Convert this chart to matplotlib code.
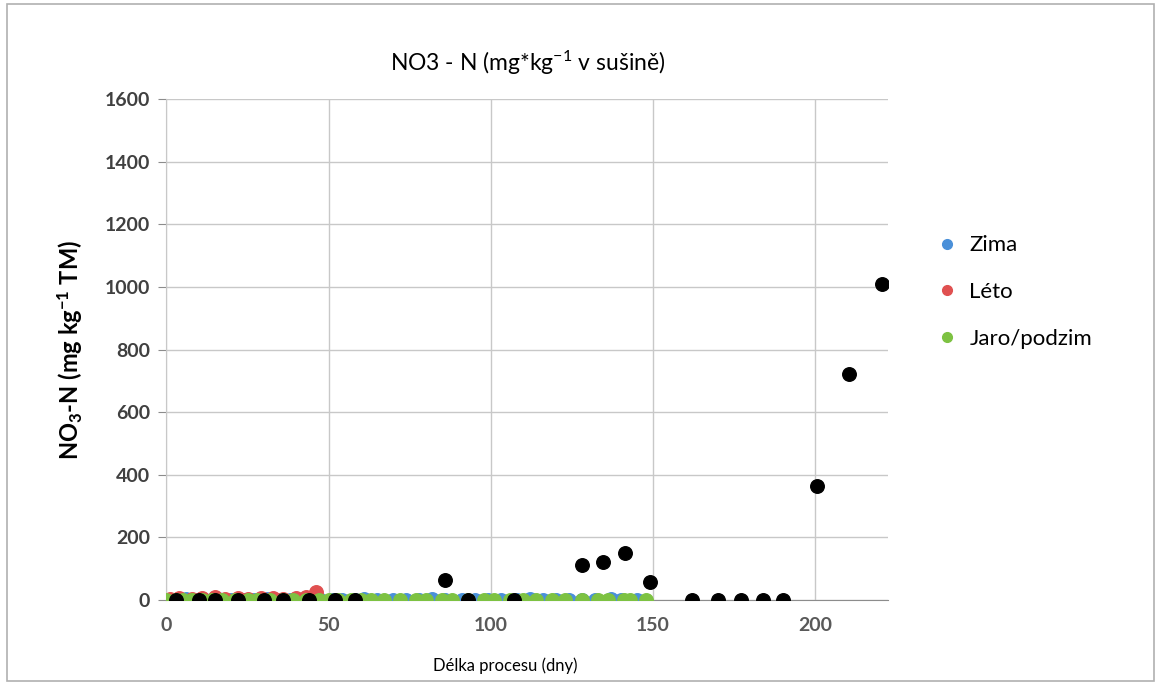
import matplotlib.pyplot as plt
from matplotlib.patches import Rectangle

plt.rcParams['font.family'] = ['Lato', 'DejaVu Sans']
plt.rcParams['mathtext.default'] = 'regular'

# Zima (blue)
zima_x = [2, 6, 9, 12, 16, 20, 24, 27, 31, 35, 38, 42, 47, 51, 54, 58, 61, 65, 70, 74, 78, 82,
          86, 91, 95, 99, 103, 108, 112, 116, 120, 124, 128, 132, 137, 140, 145]
zima_y = [1, 2, 1, 0, 2, 1, 1, 0, 2, 1, 0, 1, 2, 1, 0, 1, 2, 0, 1, 1, 0, 2,
          1, 0, 1, 1, 0, 1, 2, 0, 1, 1, 0, 1, 2, 1, 0]

# Léto (red)
leto_x = [1, 4, 8, 11, 15, 18, 22, 25, 29, 33, 36, 40, 43, 46]
leto_y = [4, 6, 3, 5, 8, 4, 6, 3, 5, 7, 4, 6, 9, 25]

# Jaro/podzim (green)
jaro_x = [0, 3, 5, 8, 11, 14, 17, 21, 25, 28, 32, 36, 39, 43, 47, 50, 53, 57, 60, 63, 67, 72,
          77, 80, 85, 88, 93, 98, 101, 106, 110, 114, 119, 123, 128, 133, 136, 141, 143, 148]
jaro_y = [0, 1, 0, 1, 0, 1, 0, 1, 0, 1, 0, 0, 1, 0, 1, 0, 1, 0, 1, 0, 1, 0,
          1, 0, 1, 0, 1, 0, 1, 0, 1, 0, 1, 0, 1, 0, 1, 0, 1, 0]

# black points
black_x = [3, 10, 15, 22, 30, 36, 44, 52, 58, 86, 93, 107, 128, 134.5, 141.5, 149,
           162, 170, 177, 184, 190, 200.5, 210.5, 220.5]
black_y = [0, 0, 0, 0, 0, 0, 0, 0, 0, 62, 0, 0, 112, 122, 150, 57,
           0, 0, 0, 0, 0, 365, 723, 1008]

fig = plt.figure(figsize=(11.64, 6.84), dpi=100)
fig.patches.append(Rectangle((0.006, 0.004), 0.985, 0.99, transform=fig.transFigure,
                             fill=False, edgecolor='#b0b0b0', linewidth=1.2))

ax = fig.add_axes([0.143, 0.123, 0.62, 0.732])
ax.scatter(zima_x, zima_y, s=95, color='#4a90d9', zorder=3, label='Zima')
ax.scatter(leto_x, leto_y, s=95, color='#e05050', zorder=3, label='Léto')
ax.scatter(jaro_x, jaro_y, s=95, color='#7dc242', zorder=4, label='Jaro/podzim')
ax.scatter(black_x, black_y, s=95, color='black', zorder=5)

ax.set_xlim(0, 222.5)
ax.set_ylim(0, 1600)
ax.set_xticks([0, 50, 100, 150, 200])
ax.set_yticks(range(0, 1601, 200))
ax.grid(True, color='#c8c8c8', linewidth=1.0)
ax.set_axisbelow(True)
for s in ['top', 'right']:
    ax.spines[s].set_visible(False)
ax.spines['left'].set_color('#c8c8c8')
ax.spines['bottom'].set_color('#8c8c8c')
ax.tick_params(axis='x', length=0, pad=12, labelsize=14, labelcolor='#595959')
ax.tick_params(axis='y', length=6, color='#8c8c8c', pad=6, labelsize=14, labelcolor='#404040')
for lab in ax.get_xticklabels() + ax.get_yticklabels():
    lab.set_fontweight('bold')

ax.set_title('NO3 - N (mg*kg$^{-1}$ v sušině)', fontsize=16.5, pad=20)
ax.set_xlabel('Délka procesu (dny)', fontsize=12, labelpad=4)
ax.xaxis.set_label_coords(0.47, -0.115)
ax.set_ylabel('NO$_3$-N (mg kg$^{-1}$ TM)', fontsize=17, fontweight='bold', labelpad=14)

handles = [plt.Line2D([], [], marker='o', linestyle='', color=c, markersize=7)
           for c in ['#4a90d9', '#e05050', '#7dc242']]
fig.legend(handles, ['Zima', 'Léto', 'Jaro/podzim'], loc='upper left',
           bbox_to_anchor=(0.785, 0.685), frameon=False, fontsize=16,
           labelspacing=1.2, handletextpad=0.4, handlelength=1.2)

plt.savefig('out.png', dpi=100)
